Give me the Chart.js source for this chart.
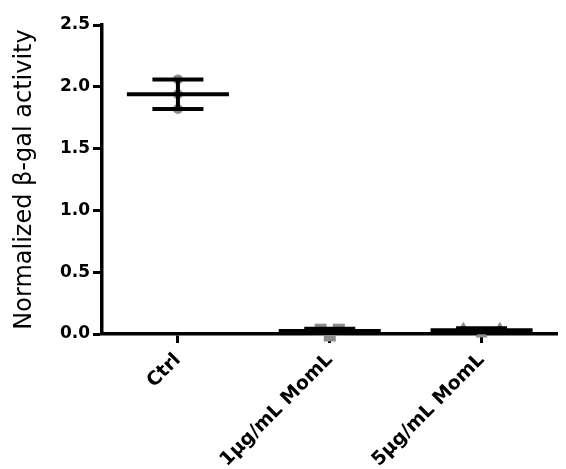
<!DOCTYPE html>
<html><head><meta charset="utf-8">
<script src="https://cdn.jsdelivr.net/npm/chart.js@4"></script>
<style>html,body{margin:0;padding:0;background:#fff;}canvas{display:block;}</style>
</head><body>
<canvas id="c" width="566" height="469"></canvas>
<script>
// ---- data ----
const categories = ['Ctrl', '1μg/mL MomL', '5μg/mL MomL'];
const ctrlValues = [2.06, 1.94, 1.82];
const lowDoseValues = [0.035, 0.035, -0.012];
const highDoseValues = [0.043, 0.0, 0.043];
const groupMeans = [1.94, 0.025, 0.03];
const groupSD = [0.12, 0.017, 0.016];
const yTickValues = [0, 0.5, 1.0, 1.5, 2.0, 2.5];
const yTitle = 'Normalized β-gal activity';

// ---- layout helpers ----
const SPREAD_STEP = 0.12;   // horizontal spacing of overlapping points (x units)
const OVERLAP_TOL = 0.045;  // values closer than this overlap
const MEAN_HALF = 0.336, CAP_HALF = 0.168;

function spread(values, gi) {
  const used = values.map(() => false);
  const out = [];
  values.forEach((v, i) => {
    if (used[i]) return;
    const cluster = values.map((w, j) => j).filter(j => !used[j] && Math.abs(values[j] - v) < OVERLAP_TOL);
    cluster.forEach(j => used[j] = true);
    cluster.forEach((j, k) => { out[j] = { x: gi + (k - (cluster.length - 1) / 2) * SPREAD_STEP, y: values[j] }; });
  });
  return out;
}

const errorPath = [];
groupMeans.forEach((m, i) => {
  const s = groupSD[i];
  errorPath.push(
    { x: i - MEAN_HALF, y: m }, { x: i + MEAN_HALF, y: m }, { x: i, y: null },
    { x: i - CAP_HALF, y: m + s }, { x: i + CAP_HALF, y: m + s }, { x: i, y: null },
    { x: i - CAP_HALF, y: m - s }, { x: i + CAP_HALF, y: m - s }, { x: i, y: null },
    { x: i, y: m - s }, { x: i, y: m + s }, { x: i, y: null }
  );
});

const gray = '#8c8c8c';
const pointSet = (vals, gi, style, r) => ({
  type: 'scatter', data: spread(vals, gi), showLine: false,
  pointStyle: style, pointRadius: r, pointHoverRadius: r,
  backgroundColor: gray, borderColor: gray, borderWidth: 0,
  clip: false, order: 2
});

new Chart(document.getElementById('c'), {
  type: 'scatter',
  data: {
    datasets: [
      {
        type: 'line', data: errorPath, showLine: true, spanGaps: false,
        borderColor: '#000', borderWidth: 4, borderCapStyle: 'butt',
        pointRadius: 0, pointHoverRadius: 0, fill: false, tension: 0,
        clip: false, order: 0
      },
      pointSet(ctrlValues, 0, 'circle', 5),
      pointSet(lowDoseValues, 1, 'rect', 8.5),
      pointSet(highDoseValues, 2, 'triangle', 7)
    ]
  },
  options: {
    responsive: false, animation: false, devicePixelRatio: 1,
    layout: { padding: { top: 25, right: 0, bottom: 0, left: 0 } },
    plugins: { legend: { display: false }, tooltip: { enabled: false } },
    events: [],
    scales: {
      x: {
        type: 'linear', min: -0.5, max: 2.5,
        afterBuildTicks: ax => { ax.ticks = categories.map((c, i) => ({ value: i })); },
        afterFit: ax => { ax.height = 135; },
        grid: { display: true, drawOnChartArea: false, drawTicks: true, tickLength: 9, tickWidth: 3, tickColor: '#000' },
        border: { display: true, color: '#000', width: 3.5 },
        ticks: {
          callback: v => categories[v], minRotation: 45, maxRotation: 45, autoSkip: false,
          padding: 6, color: '#000',
          font: { family: 'DejaVu Sans', size: 19, weight: 'bold' }
        }
      },
      y: {
        type: 'linear', min: 0, max: 2.5,
        afterBuildTicks: ax => { ax.ticks = yTickValues.map(v => ({ value: v })); },
        afterFit: ax => { ax.width = 102; },
        grid: { display: true, drawOnChartArea: false, drawTicks: true, tickLength: 9, tickWidth: 3, tickColor: '#000' },
        border: { display: true, color: '#000', width: 3.5 },
        ticks: {
          callback: v => Number(v).toFixed(1), padding: 3, color: '#000',
          font: { family: 'DejaVu Sans', size: 17, weight: 'bold' }
        },
        title: {
          display: true, text: yTitle, color: '#000',
          font: { family: 'DejaVu Sans', size: 24, weight: 'normal' },
          padding: { top: 10, bottom: 0 }
        }
      }
    }
  }
});
</script>
</body></html>
